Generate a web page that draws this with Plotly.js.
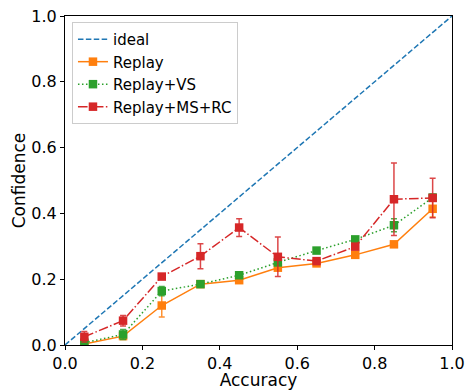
<!DOCTYPE html>
<html>
<head>
<meta charset="utf-8">
<script src="https://cdn.plot.ly/plotly-3.0.1.min.js"></script>
<style>html,body{margin:0;padding:0;background:#fff;}#chart{width:467px;height:390px;}</style>
</head>
<body>
<div id="chart"></div>
<script>
const bins = [0.05, 0.15, 0.25, 0.35, 0.45, 0.55, 0.65, 0.75, 0.85, 0.95];
const idealX = [0, 1];
const idealY = [0, 1];
const replay = [0.003, 0.027, 0.12, 0.185, 0.197, 0.235, 0.248, 0.274, 0.306, 0.414];
const replayErr = [0.004, 0.008, 0.035, 0.006, 0.005, 0.006, 0.005, 0.006, 0.006, 0.025];
const replayVS = [0.007, 0.032, 0.164, 0.185, 0.212, 0.251, 0.287, 0.321, 0.364, 0.448];
const replayVSErr = [0.005, 0.015, 0.014, 0.005, 0.006, 0.006, 0.006, 0.007, 0.02, 0.01];
const replayMSRC = [0.025, 0.074, 0.208, 0.27, 0.357, 0.268, 0.255, 0.299, 0.443, 0.447];
const replayMSRCErr = [0.016, 0.016, 0.006, 0.038, 0.027, 0.06, 0.005, 0.008, 0.11, 0.06];

const font = "DejaVu Sans, sans-serif";
function series(name, y, err, color, errColor, dash) {
  return {
    x: bins, y: y, name: name, type: 'scatter', mode: 'lines+markers',
    line: {color: color, width: 1.5, dash: dash},
    marker: {symbol: 'square', size: 8.5, color: color},
    error_y: {type: 'data', array: err, visible: true, color: errColor, thickness: 1.5, width: 3}
  };
}
const data = [
  {x: idealX, y: idealY, name: 'ideal', type: 'scatter', mode: 'lines',
   line: {color: '#1f77b4', width: 1.5, dash: '5.5px,2.4px'}},
  series('Replay', replay, replayErr, '#ff7f0e', 'rgba(255,127,14,0.85)', 'solid'),
  series('Replay+VS', replayVS, replayVSErr, '#2ca02c', 'rgba(44,160,44,0.85)', '1.5px,2.5px'),
  series('Replay+MS+RC', replayMSRC, replayMSRCErr, '#d62728', 'rgba(214,39,40,0.85)', '9.6px,2.4px,1.5px,2.4px')
];
const axisCommon = {
  range: [0, 1], dtick: 0.2, tickformat: '.1f', showgrid: false, zeroline: false,
  showline: true, mirror: true, linecolor: '#000', linewidth: 1,
  ticks: 'outside', ticklen: 4, tickcolor: '#000',
  tickfont: {family: font, size: 16, color: '#000'}
};
const layout = {
  width: 467, height: 390,
  margin: {l: 65, r: 15, t: 16, b: 45},
  paper_bgcolor: '#fff', plot_bgcolor: '#fff',
  font: {family: font, color: '#000'},
  showlegend: true,
  legend: {x: 0.018, y: 0.982, xanchor: 'left', yanchor: 'top',
    bgcolor: 'rgba(255,255,255,0.8)', bordercolor: '#ccc', borderwidth: 1,
    font: {family: font, size: 15, color: '#000'}},
  xaxis: Object.assign({}, axisCommon, {title: {text: 'Accuracy', font: {family: font, size: 17}, standoff: 4}}),
  yaxis: Object.assign({}, axisCommon, {title: {text: 'Confidence', font: {family: font, size: 17}, standoff: 1}})
};
Plotly.newPlot('chart', data, layout, {displayModeBar: false, staticPlot: true});
</script>
</body>
</html>
